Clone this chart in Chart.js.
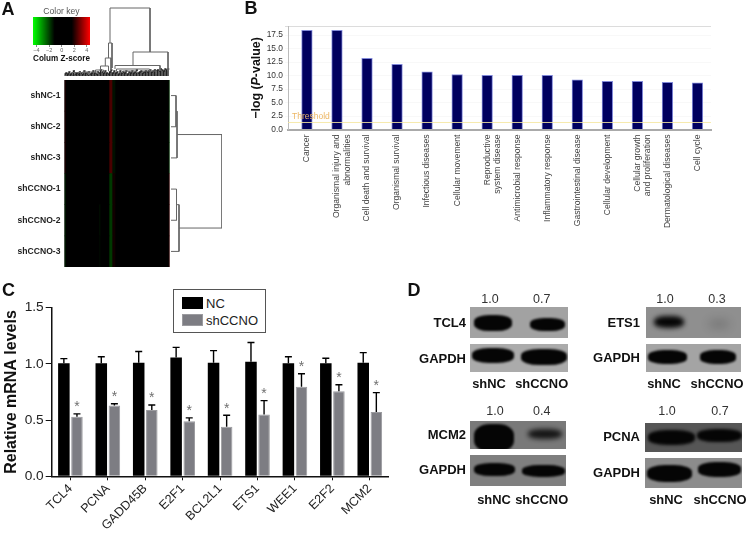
<!DOCTYPE html>
<html>
<head>
<meta charset="utf-8">
<style>
  html, body { margin: 0; padding: 0; background: #fff; }
  #page { position: relative; width: 747px; height: 533px; overflow: hidden; font-family: "Liberation Sans", Arial, sans-serif; filter: blur(0.3px); }
  canvas { position: absolute; }
  .txt { position: absolute; white-space: nowrap; color: #111; transform: translate(-50%, -50%); }
  .blot { position: absolute; overflow: hidden; }
  .band { position: absolute; background: #050505; }
  .legend { position: absolute; left: 173px; top: 289px; width: 91px; height: 42px; border: 1px solid #555; background: #fff; }
  .legend div { position: absolute; left: 8px; font-size: 13px; line-height: 13px; color: #222; padding-left: 24px; }
  .legend i { position: absolute; left: 0; top: 0; width: 21px; height: 12px; box-sizing: border-box; }
</style>
<script src="https://cdn.jsdelivr.net/npm/chart.js@4/dist/chart.umd.js"></script>
</head>
<body>
<div id="page"></div>
<script>
// Panel A: heatmap
const heatRows = ['shNC-1', 'shNC-2', 'shNC-3', 'shCCNO-1', 'shCCNO-2', 'shCCNO-3']
const heatColumnWidths = [1, 33.5, 1, 9, 3, 3, 53.5, 1]
const heatShNC1 = [0.5, 0, 0, 0, 1.3, -0.3, 0, -1.2]
const heatShNC2 = [0.5, 0, 0, 0, 1.3, -0.3, 0, -1.2]
const heatShNC3 = [0.5, 0, 0, 0, 1.3, -0.3, 0, -1.2]
const heatShCCNO1 = [-0.5, 0, 0, 0, -1, 0.3, 0, 1.2]
const heatShCCNO2 = [-0.5, 0, -0.3, 0, -1, 0.3, 0, 1.2]
const heatShCCNO3 = [-0.5, 0, -0.2, 0, -1, 0.3, 0, 1.2]
const keyRange = [-4.55, 4.5]
const keyTicks = [-4, -2, 0, 2, 4]

// dendrograms: [left, right, height, left child height, right child height]
const topTreeLinks = [
  [45.5, 85.5, 68, 33, 24],
  [44, 47.5, 33, 18, 8],
  [40.8, 46.5, 18, 10, 6],
  [36, 44, 10, 6, 5],
  [31, 39, 6, 4, 3],
  [18, 33, 4, 2, 2],
  [68.5, 103.5, 24, 10.5, 5],
  [50.5, 95.5, 10.5, 7, 5],
  [52, 85, 7, 5, 5],
  [58, 72, 5, 3, 3],
  [78, 92, 5, 3, 2],
  [8, 24, 3.5, 1, 1]
]
const topCombHeights = [2, 3, 2, 4, 2, 3, 5, 2, 3, 2, 4, 3, 2, 5, 3, 2, 4, 2, 3, 5, 3, 2, 4, 3, 6, 4, 3, 5, 3, 2, 4, 6, 3, 5, 3, 4, 2, 5, 3, 4, 3, 5, 2, 4, 3, 5, 3, 4, 6, 3, 4, 5, 3, 4, 5, 4, 5, 6, 4, 5, 6, 5, 6, 5, 7, 6, 5, 7, 6, 7]
const sideTreeLinks = [
  [0.5, 1.5, 6, 1, 1],
  [1, 2.5, 7, 6, 1],
  [3.5, 4.5, 6.5, 1, 1],
  [4, 5.5, 9, 6.5, 1],
  [1.75, 4.75, 52, 7, 9]
]

// Panel B: -log(P-value)
const bCategories = ['Cancer', ['Organismal injury and', 'abnormalities'], 'Cell death and survival', 'Organismal survival', 'Infectious diseases', 'Cellular movement', ['Reproductive', 'system disease'], 'Antimicrobial response', 'Inflammatory response', 'Gastrointestinal disease', 'Cellular development', ['Cellular growth', 'and proliferation'], 'Dermatological diseases', 'Cell cycle']
const bValues = [18.4, 18.4, 13.2, 12.1, 10.7, 10.2, 10.05, 10.05, 10.05, 9.2, 8.95, 8.95, 8.75, 8.65]
const bTicks = [0, 2.5, 5, 7.5, 10, 12.5, 15, 17.5]
const bThreshold = 1.3

// Panel C: relative mRNA levels
const cGenes = ['TCL4', 'PCNA', 'GADD45B', 'E2F1', 'BCL2L1', 'ETS1', 'WEE1', 'E2F2', 'MCM2']
const cNC = [1.005, 1.005, 1.01, 1.058, 1.01, 1.02, 1.005, 1.005, 1.01]
const cNCTop = [1.047, 1.064, 1.11, 1.147, 1.118, 1.19, 1.064, 1.05, 1.10]
const cShCCNO = [0.53, 0.63, 0.59, 0.49, 0.44, 0.55, 0.797, 0.756, 0.572]
const cShCCNOTop = [0.555, 0.646, 0.634, 0.52, 0.543, 0.673, 0.913, 0.815, 0.744]
const cTicks = [0, 0.5, 1, 1.5]

const page = document.getElementById('page')
Chart.defaults.font.family = '"Liberation Sans", Arial, sans-serif'
Chart.defaults.animation = false
Chart.defaults.responsive = false
Chart.defaults.plugins.legend.display = false
Chart.defaults.plugins.tooltip.enabled = false

function addCanvas(x, y, w, h) {
    const c = document.createElement('canvas')
    c.width = w
    c.height = h
    c.style.left = x + 'px'
    c.style.top = y + 'px'
    page.appendChild(c)
    return c
}

function addText(text, x, y, size, bold, extra) {
    const d = document.createElement('div')
    d.className = 'txt'
    d.innerHTML = text
    d.style.left = x + 'px'
    d.style.top = y + 'px'
    d.style.fontSize = size + 'px'
    d.style.fontWeight = bold ? 'bold' : 'normal'
    if (extra) d.style.cssText += extra
    page.appendChild(d)
}

// Fix an axis box size and drop the overhang margins so the plot area lands where it should
function fitX(height) {
    return s => { s.height = height; s.paddingLeft = 0; s.paddingRight = 0 }
}
function fitY(width) {
    return s => { s.width = width; s.paddingTop = 0; s.paddingBottom = 0 }
}

// Z-score to heatmap colour, same scale as the colour key
function zColor(z) {
    const v = Math.round(Math.min(Math.abs(z) / 4.5, 1) * 255)
    return z >= 0 ? `rgb(${v},0,0)` : `rgb(0,${v},0)`
}

const blackPlot = {
    id: 'blackPlot',
    beforeDatasetsDraw(chart) {
        const a = chart.chartArea
        chart.ctx.fillStyle = '#000'
        chart.ctx.fillRect(a.left, a.top, a.right - a.left, a.bottom - a.top)
    }
}

// Heatmap
const heatMatrix = [heatShNC1, heatShNC2, heatShNC3, heatShCCNO1, heatShCCNO2, heatShCCNO3]
new Chart(addCanvas(0, 78, 172, 192), {
    type: 'bar',
    data: {
        labels: heatRows,
        datasets: heatColumnWidths.map((w, j) => ({
            data: heatRows.map(() => w),
            backgroundColor: heatMatrix.map(row => zColor(row[j])),
            barPercentage: 1,
            categoryPercentage: 1
        }))
    },
    options: {
        indexAxis: 'y',
        layout: { padding: { top: 2, bottom: 3, right: 2.5 } },
        scales: {
            x: { stacked: true, display: false, min: 0, max: 105 },
            y: {
                stacked: true,
                afterFit: fitY(64.5),
                grid: { display: false, drawTicks: false },
                border: { display: false },
                ticks: { color: '#222', padding: 4, font: { size: 8.6, weight: 'bold' } }
            }
        }
    },
    plugins: [blackPlot]
})

// Colour key
new Chart(addCanvas(25, 6, 73, 61), {
    type: 'bar',
    data: {
        labels: ['key'],
        datasets: [{
            data: [keyRange],
            barPercentage: 1,
            categoryPercentage: 1,
            backgroundColor: ctx => {
                const area = ctx.chart.chartArea
                if (!area) return '#000'
                const g = ctx.chart.ctx.createLinearGradient(area.left, 0, area.right, 0)
                g.addColorStop(0, '#00ff00')
                g.addColorStop(0.38, '#000000')
                g.addColorStop(0.68, '#000000')
                g.addColorStop(1, '#ff0000')
                return g
            }
        }]
    },
    options: {
        indexAxis: 'y',
        layout: { padding: { left: 8, right: 8 } },
        plugins: {
            title: { display: true, text: 'Color key', color: '#555', font: { size: 8.6, weight: 'normal' }, padding: { top: 0, bottom: 0.7 } }
        },
        scales: {
            y: { display: false },
            x: {
                min: keyRange[0],
                max: keyRange[1],
                afterBuildTicks: s => { s.ticks = keyTicks.map(value => ({ value })) },
                afterFit: fitX(22),
                grid: { drawOnChartArea: false, tickLength: 2, color: '#888' },
                border: { display: false },
                ticks: { color: '#666', padding: 0, maxRotation: 0, autoSkip: false, font: { size: 5.5 }, callback: v => String(v).replace('-', '\u2212') },
                title: { display: true, text: 'Colum Z-score', color: '#111', padding: { top: 0, bottom: 3 }, font: { size: 9.6, weight: 'bold' } }
            }
        }
    }
})

function treeDataset(points) {
    return { data: points, showLine: true, pointRadius: 0, borderColor: '#666', borderWidth: 1, tension: 0 }
}

// Top dendrogram
const topDatasets = topTreeLinks.map(([a, b, h, ha, hb]) => treeDataset([{ x: a, y: ha }, { x: a, y: h }, { x: b, y: h }, { x: b, y: hb }]))
topCombHeights.forEach((h, i) => {
    const d = treeDataset([{ x: i * 1.5, y: 0 }, { x: i * 1.5, y: h }, { x: i * 1.5 + 1.5, y: h }])
    d.borderColor = '#222'
    d.borderWidth = 1.4
    topDatasets.push(d)
})
new Chart(addCanvas(64, 0, 106, 79), {
    type: 'scatter',
    data: { datasets: topDatasets },
    options: {
        layout: { padding: { left: 0.5, right: 0.5, top: 4, bottom: 3 } },
        scales: {
            x: { display: false, min: 0, max: 105 },
            y: { display: false, min: 0, max: 72 }
        }
    }
})

// Side dendrogram
new Chart(addCanvas(169, 78, 55, 192), {
    type: 'scatter',
    data: {
        datasets: sideTreeLinks.map(([a, b, h, ha, hb]) => treeDataset([{ x: ha, y: a }, { x: h, y: a }, { x: h, y: b }, { x: hb, y: b }]))
    },
    options: {
        layout: { padding: { left: 1, right: 2, top: 2, bottom: 3 } },
        scales: {
            x: { display: false, min: 0, max: 52 },
            y: { display: false, min: 0, max: 6, reverse: true }
        }
    }
})

// Panel B
const bXMin = -0.63
const bXMax = 13.45
const thresholdLabel = {
    id: 'thresholdLabel',
    afterDatasetsDraw(chart) {
        const { ctx, scales } = chart
        ctx.save()
        ctx.fillStyle = '#edb765'
        ctx.font = '8.5px "Liberation Sans", Arial, sans-serif'
        ctx.textBaseline = 'bottom'
        ctx.fillText('Threshold', scales.x.getPixelForValue(bXMin) + 4, scales.y.getPixelForValue(bThreshold) - 1.5)
        ctx.restore()
    }
}
new Chart(addCanvas(250, 20, 470, 220), {
    data: {
        datasets: [
            {
                type: 'line',
                data: [{ x: bXMin, y: bThreshold }, { x: bXMax, y: bThreshold }],
                borderColor: 'rgba(246,232,160,0.85)',
                borderWidth: 1,
                pointRadius: 0,
                order: 0
            },
            {
                type: 'bar',
                data: bValues.map((y, x) => ({ x, y })),
                backgroundColor: '#00005f',
                borderColor: '#8088d8',
                borderWidth: 1,
                barThickness: 10.6,
                order: 1
            }
        ]
    },
    options: {
        layout: { padding: { top: 6, right: 9 } },
        scales: {
            x: {
                type: 'linear',
                offset: false,
                min: bXMin,
                max: bXMax,
                afterBuildTicks: s => { s.ticks = bCategories.map((c, value) => ({ value })) },
                afterFit: fitX(110.5),
                grid: { display: false, drawTicks: false },
                border: { color: '#aaa', width: 2 },
                ticks: { color: '#444', autoSkip: false, minRotation: 90, maxRotation: 90, padding: 5, font: { size: 8.6 }, callback: v => bCategories[v] }
            },
            y: {
                min: 0,
                max: 19.2,
                afterBuildTicks: s => { s.ticks = bTicks.concat([19.2]).map(value => ({ value })) },
                afterFit: fitY(38),
                grid: { color: c => c.tick.value === 19.2 ? '#dcdcdc' : '#f8f8f8', drawTicks: true, tickLength: 3 },
                border: { color: '#bbb' },
                ticks: { color: '#333', padding: 2, autoSkip: false, font: { size: 8.4 }, callback: v => bTicks.includes(v) ? v.toFixed(1) : '' }
            }
        }
    },
    plugins: [thresholdLabel]
})
addText('\u2212log (<i>P</i>-value)', 256, 78, 12.4, true, 'transform: translate(-50%, -50%) rotate(-90deg);')

// Panel C
const errorBars = {
    id: 'errorBars',
    afterDatasetsDraw(chart) {
        const { ctx, scales } = chart
        const tops = [cNCTop, cShCCNOTop]
        ctx.save()
        tops.forEach((top, i) => {
            chart.getDatasetMeta(i).data.forEach((bar, j) => {
                const y = scales.y.getPixelForValue(top[j])
                ctx.strokeStyle = '#000'
                ctx.lineWidth = 1.4
                ctx.beginPath()
                ctx.moveTo(bar.x, bar.y)
                ctx.lineTo(bar.x, y)
                ctx.moveTo(bar.x - 3.5, y)
                ctx.lineTo(bar.x + 3.5, y)
                ctx.stroke()
                if (i === 1) {
                    ctx.fillStyle = '#6f6f6f'
                    ctx.font = '14px "Liberation Sans", Arial, sans-serif'
                    ctx.textAlign = 'center'
                    ctx.textBaseline = 'middle'
                    ctx.fillText('*', bar.x, y - 6.5)
                }
            })
        })
        ctx.restore()
    }
}
const cChart = new Chart(addCanvas(0, 295, 395, 238), {
    type: 'bar',
    data: {
        labels: cGenes,
        datasets: [
            { label: 'NC', data: cNC, backgroundColor: '#000', borderColor: '#000', categoryPercentage: 0.7, barPercentage: 0.88 },
            { label: 'shCCNO', data: cShCCNO, backgroundColor: '#7d7d83', borderColor: '#9b9b9f', borderWidth: 1, categoryPercentage: 0.7, barPercentage: 0.88 }
        ]
    },
    options: {
        layout: { padding: { top: 12.7, right: 6.5 } },
        scales: {
            x: {
                afterFit: fitX(56.7),
                grid: { drawOnChartArea: false, color: '#111', tickLength: 4, offset: false },
                border: { color: '#111', width: 1.5 },
                ticks: { color: '#222', minRotation: 45, maxRotation: 45, autoSkip: false, padding: 1, font: { size: 12.5 } }
            },
            y: {
                min: 0,
                max: 1.5,
                afterBuildTicks: s => { s.ticks = cTicks.map(value => ({ value })) },
                afterFit: fitY(51.7),
                grid: { drawOnChartArea: false, color: '#111', tickLength: 6 },
                border: { color: '#111', width: 1.5 },
                ticks: { color: '#222', padding: 2, font: { size: 13.7 }, callback: v => v.toFixed(1) },
                title: { display: true, text: 'Relative mRNA levels', color: '#111', padding: { top: 2, bottom: 0 }, font: { size: 16, weight: 'bold' } }
            }
        }
    },
    plugins: [errorBars]
})

// Legend for panel C, built from the datasets
const legend = document.createElement('div')
legend.className = 'legend'
cChart.data.datasets.forEach((ds, i) => {
    const row = document.createElement('div')
    row.style.top = (7 + i * 17) + 'px'
    row.textContent = ds.label
    const sw = document.createElement('i')
    sw.style.background = ds.backgroundColor
    sw.style.border = '1px solid ' + ds.borderColor
    row.appendChild(sw)
    legend.appendChild(row)
})
page.appendChild(legend)

// Panel D: western blot strips
function addBlot(x, y, w, h, bg, bands) {
    const b = document.createElement('div')
    b.className = 'blot'
    b.style.cssText = `left:${x}px;top:${y}px;width:${w}px;height:${h}px;background:${bg};`
    bands.forEach(([bx, by, bw, bh, soft, op]) => {
        const s = document.createElement('div')
        s.className = 'band'
        s.style.cssText = `left:${bx}px;top:${by}px;width:${bw}px;height:${bh}px;border-radius:40%;filter:blur(${soft}px);opacity:${op};`
        b.appendChild(s)
    })
    page.appendChild(b)
}

addBlot(470, 307, 98, 31, '#a2a2a2', [[4, 8, 38, 16, 0.8, 1], [60, 11, 35, 13, 1, 1]])
addBlot(470, 344, 98, 28, '#ababab', [[2, 4, 42, 15, 0.8, 1], [51, 5, 46, 16, 0.8, 1]])
addBlot(646, 307, 95, 31, '#8f8f8f', [[8, 9, 30, 12, 2.5, 1], [62, 12, 22, 10, 5, 0.15]])
addBlot(646, 344, 95, 28, '#a4a4a4', [[2, 6, 39, 14, 0.8, 1], [54, 6, 36, 14, 0.8, 1]])
addBlot(470, 421, 96, 28, '#797979', [[4, 3, 40, 28, 0.8, 1], [58, 8, 34, 10, 2.5, 0.85]])
addBlot(470, 455, 96, 31, '#7f7f7f', [[4, 8, 41, 13, 0.8, 1], [52, 10, 43, 12, 0.8, 1]])
addBlot(645, 423, 97, 29, '#565656', [[3, 7, 47, 15, 1.5, 1], [52, 6, 45, 13, 1.5, 1]])
addBlot(645, 458, 97, 30, '#8c8c8c', [[2, 7, 45, 17, 0.8, 1], [53, 4, 43, 15, 0.8, 1]])

const dLabels = [
    // name, right edge, centre y
    ['TCL4', 466, 321.7], ['GAPDH', 466, 357.5],
    ['ETS1', 640, 321.7], ['GAPDH', 640, 357],
    ['MCM2', 466, 434], ['GAPDH', 466, 469],
    ['PCNA', 640, 436], ['GAPDH', 640, 472]
]
dLabels.forEach(([t, x, y]) => addText(t, x, y, 13, true, 'transform: translate(-100%, -50%);'))

const dLanes = [
    // left lane x, right lane x, value y, lane y, values
    [490, 541.7, 299, 382.7, '1.0', '0.7'],
    [665, 717, 299, 382.7, '1.0', '0.3'],
    [495, 541.7, 411, 498.7, '1.0', '0.4'],
    [667, 720, 411, 498.7, '1.0', '0.7']
]
dLanes.forEach(([x1, x2, vy, ly, v1, v2]) => {
    addText(v1, x1, vy, 12.5, false, 'color:#333;')
    addText(v2, x2, vy, 12.5, false, 'color:#333;')
    addText('shNC', x1 - 1, ly, 12.9, true)
    addText('shCCNO', x2, ly, 12.9, true)
})

// Panel letters
addText('A', 8, 9, 18, true)
addText('B', 251, 8, 18, true)
addText('C', 8.5, 290, 18, true)
addText('D', 414, 290, 18, true)
</script>
</body>
</html>
